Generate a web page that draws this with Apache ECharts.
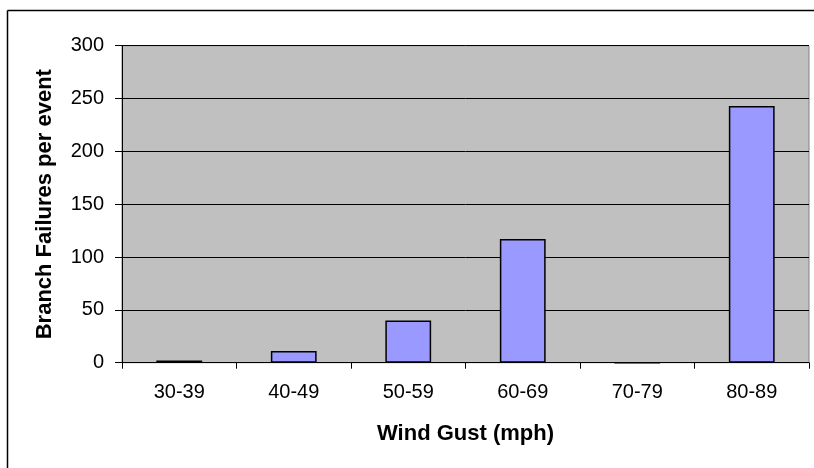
<!DOCTYPE html>
<html>
<head>
<meta charset="utf-8">
<script src="https://cdn.jsdelivr.net/npm/echarts@6/dist/echarts.min.js"></script>
<style>
html,body{margin:0;padding:0;background:#fff;overflow:hidden;}
#c{width:814px;height:468px;}
</style>
</head>
<body>
<div id="c"></div>
<script>
var categories = ['30-39','40-49','50-59','60-69','70-79','80-89'];
var failures = [2, 11, 40, 117, 0, 243];
var yTicks = { min: 0, max: 300, interval: 50 };

var chart = echarts.init(document.getElementById('c'), null, {renderer:'canvas'});
var font = 'Liberation Sans, Arial, sans-serif';
chart.setOption({
  animation: false,
  backgroundColor: '#ffffff',
  graphic: [{
    type: 'line',
    shape: { x1: 7.5, y1: 10.5, x2: 7.5, y2: 468 },
    style: { stroke: '#000', lineWidth: 1.5 },
    silent: true, z: -1
  }, {
    type: 'line',
    shape: { x1: 7.5, y1: 10.5, x2: 814, y2: 10.5 },
    style: { stroke: '#000', lineWidth: 1.5 },
    silent: true, z: -1
  }],
  grid: {
    left: 122, top: 45.7, right: 5, bottom: 105.3,
    show: true, backgroundColor: '#C0C0C0', borderColor: '#808080', borderWidth: 1
  },
  xAxis: {
    type: 'category',
    data: categories,
    boundaryGap: true,
    name: 'Wind Gust (mph)',
    nameLocation: 'middle',
    nameGap: 60,
    nameTextStyle: { fontFamily: font, fontSize: 22, fontWeight: 'bold', color: '#000' },
    axisLine: { show: true, lineStyle: { color: '#000', width: 1 } },
    axisTick: { show: true, length: 6, alignWithLabel: false, lineStyle: { color: '#000' } },
    axisLabel: { fontFamily: font, fontSize: 20, color: '#000', margin: 20 },
    splitLine: { show: false },
    z: 3
  },
  yAxis: {
    type: 'value',
    min: yTicks.min, max: yTicks.max, interval: yTicks.interval,
    name: 'Branch Failures per event',
    nameLocation: 'middle',
    nameGap: 66,
    nameRotate: 90,
    nameTextStyle: { fontFamily: font, fontSize: 22, fontWeight: 'bold', color: '#000' },
    axisLine: { show: true, lineStyle: { color: '#000', width: 1 } },
    axisTick: { show: true, length: 7, lineStyle: { color: '#000' } },
    axisLabel: { fontFamily: font, fontSize: 20, color: '#000', margin: 18 },
    splitLine: { show: true, lineStyle: { color: '#000', width: 1 } }
  },
  series: [{
    type: 'bar',
    data: failures,
    barWidth: '40%',
    itemStyle: { color: '#9999FF', borderColor: '#000', borderWidth: 1.5 }
  }]
});
</script>
</body>
</html>
